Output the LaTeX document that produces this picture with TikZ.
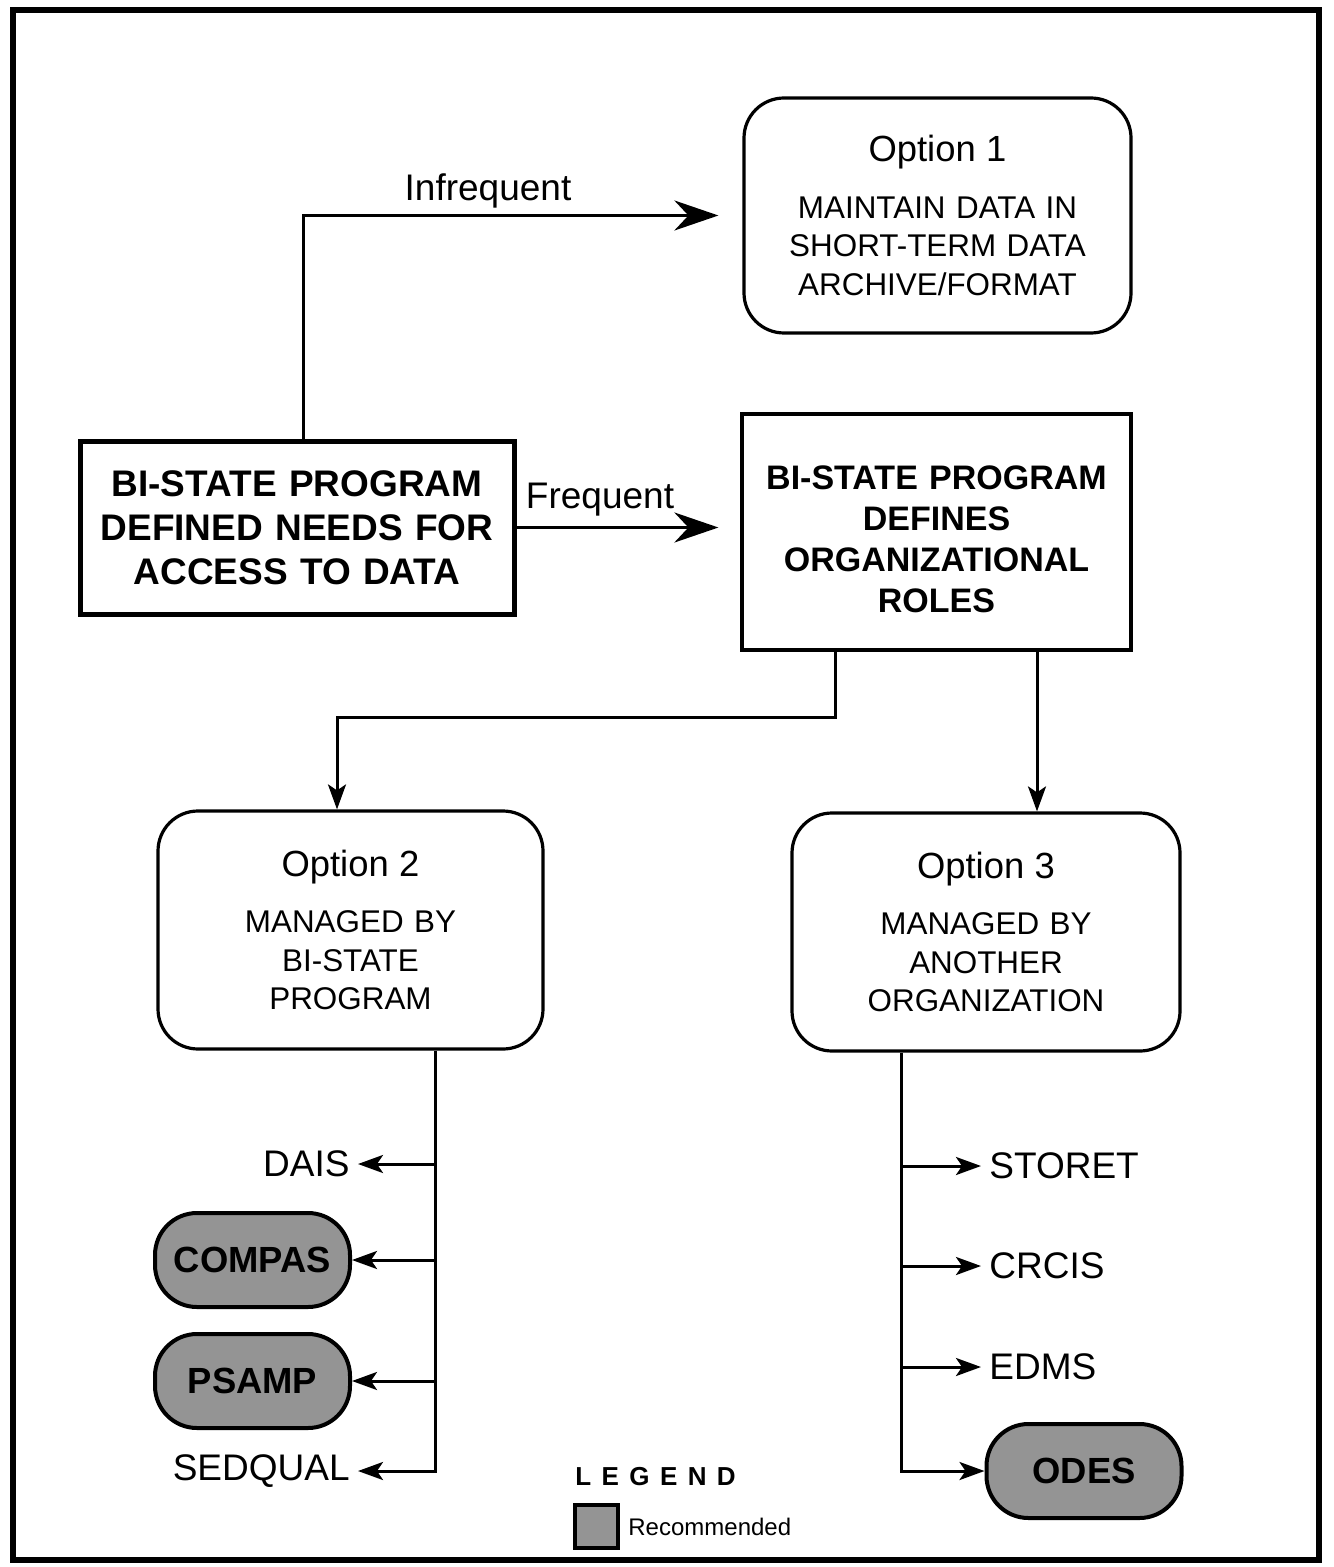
\documentclass[tikz,border=0pt]{standalone}
\usepackage{fontspec}
\setmainfont{Liberation Sans}
\usetikzlibrary{arrows.meta,calc}
\tikzset{
  conn/.style={line width=1.5pt},
  bigarr/.style={conn,-{Stealth[length=22pt,width=15pt,inset=7pt]}},
  smallarr/.style={conn,-{Stealth[length=12.5pt,width=9pt,inset=3pt]}},
  optbox/.style={draw,line width=1.6pt,rounded corners=20pt,align=center,
    text width=185pt,inner sep=0pt,font=\fontsize{15.7}{19.3}\selectfont},
  boldbox/.style={draw,align=center,inner sep=0pt,font=\bfseries},
  pill/.style={draw,line width=2pt,fill=black!42,rounded corners=21pt,
    inner sep=0pt,minimum width=97.5pt,minimum height=47pt,
    font=\fontsize{18.2}{22}\selectfont\bfseries},
  item/.style={inner sep=4pt,font=\fontsize{18.5}{22}\selectfont},
  lab/.style={inner sep=0pt,font=\fontsize{18.5}{22}\selectfont},
}
\begin{document}
\begin{tikzpicture}[x=0.5pt,y=-0.5pt]
\useasboundingbox (0,0) rectangle (1333,1567);
\draw[line width=2.6pt] (13,10) rectangle (1319,1560);

% boxes
\node[boldbox,line width=2.5pt,minimum width=217pt,minimum height=86.5pt,
  text width=212pt,font=\fontsize{18.5}{22}\selectfont\bfseries] (start) at (297,527.5)
  {BI-STATE PROGRAM\\DEFINED NEEDS FOR\\ACCESS TO DATA};
\node[boldbox,line width=1.6pt,minimum width=194.5pt,minimum height=118pt,
  text width=190pt,font=\fontsize{17}{20.5}\selectfont\bfseries] (def) at (936.5,532)
  {\rule{0pt}{19.5pt}BI-STATE PROGRAM\\DEFINES\\ORGANIZATIONAL\\ROLES};
\node[optbox,minimum width=193.5pt,minimum height=117.5pt] (opt1) at (937.5,215.5)
  {{\fontsize{18.2}{19.3}\selectfont Option 1}\\[9pt]MAINTAIN DATA IN\\SHORT-TERM DATA\\ARCHIVE/FORMAT};
\node[optbox,minimum width=192.5pt,minimum height=119pt] (opt2) at (350.5,930)
  {{\fontsize{18.2}{19.3}\selectfont Option 2}\\[9pt]MANAGED BY\\BI-STATE\\PROGRAM};
\node[optbox,minimum width=194pt,minimum height=119pt] (opt3) at (986,932)
  {{\fontsize{18.2}{19.3}\selectfont Option 3}\\[9pt]MANAGED BY\\ANOTHER\\ORGANIZATION};

% left items
\node[item,anchor=east] (dais) at (358,1164) {DAIS};
\node[pill] (compas) at (252.5,1260) {COMPAS};
\node[pill] (psamp) at (252.5,1381) {PSAMP};
\node[item,anchor=east] (sedqual) at (358,1471) {SEDQUAL};

% right items
\node[item,anchor=west] (storet) at (981,1166) {STORET};
\node[item,anchor=west] (crcis) at (981,1266) {CRCIS};
\node[item,anchor=west] (edms) at (981,1367) {EDMS};
\node[pill] (odes) at (1084,1471) {ODES};

% labels
\node[lab] (infreq) at (488,191) {Infrequent};
\node[lab] (freq) at (600,500) {Frequent};

% connectors
\draw[bigarr] ([xshift=3pt]start.north) |- ([xshift=-12pt]opt1.west);
\draw[bigarr] (start.east) -- ([xshift=-11pt]def.west |- start.east);

\coordinate (j1) at (337,717);
\draw[smallarr] ([xshift=-50.75pt]def.south) |- (j1) -- (j1 |- opt2.north);
\draw[smallarr] ([xshift=50.25pt]def.south) -- ([xshift=50.25pt]def.south |- opt3.north);

\coordinate (b1) at (435,1164);
\coordinate (b2) at (435,1260);
\coordinate (b3) at (435,1381);
\draw[smallarr] ([xshift=42.25pt]opt2.south) |- (sedqual.east);
\draw[smallarr] (b1) -- (dais.east);
\draw[smallarr] (b2) -- (compas.east);
\draw[smallarr] (b3) -- (psamp.east);

\coordinate (c1) at (901,1166);
\coordinate (c2) at (901,1266);
\coordinate (c3) at (901,1367);
\draw[smallarr] ([xshift=-42.5pt]opt3.south) |- (odes.west);
\draw[smallarr] (c1) -- (storet.west);
\draw[smallarr] (c2) -- (crcis.west);
\draw[smallarr] (c3) -- (edms.west);

% legend
\node[inner sep=0pt,anchor=west,font=\fontsize{13}{15}\selectfont\bfseries] (legend) at (575,1477)
  {L\hspace{5.2pt}E\hspace{5.2pt}G\hspace{5.2pt}E\hspace{5.2pt}N\hspace{5.2pt}D};
\node[draw,line width=1.6pt,fill=black!42,minimum size=21.5pt,inner sep=0pt] (swatch) at (596.5,1526.5) {};
\node[inner sep=0pt,anchor=west,font=\fontsize{12}{14}\selectfont] (rec) at (628,1527) {Recommended};
\end{tikzpicture}
\end{document}
